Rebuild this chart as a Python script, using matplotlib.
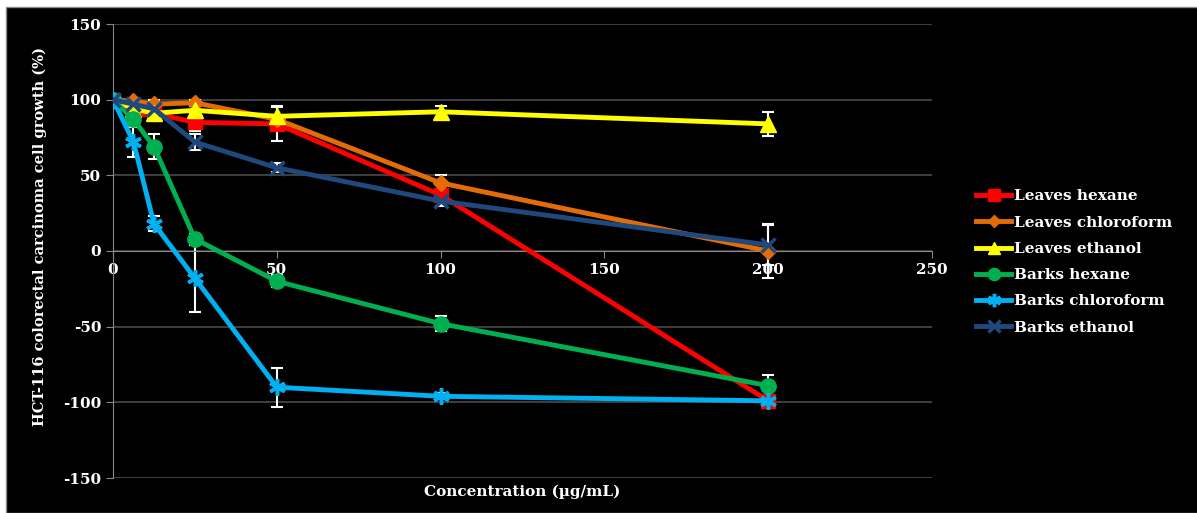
import matplotlib.pyplot as plt
from matplotlib.patches import Rectangle

conc = [0, 6.25, 12.5, 25, 50, 100, 200]

leaves_hexane = [100, 89, 91, 85, 84, 37, -99]
leaves_hexane_err = [1, 4, 3, 6, 11, 3, 2]
leaves_chloroform = [100, 99, 97, 98, 87, 45, 0]
leaves_chloroform_err = [1, 2, 3, 2, 3, 5, 18]
leaves_ethanol = [100, 94, 91, 93, 89, 92, 84]
leaves_ethanol_err = [1, 3, 3, 3, 7, 4, 8]
barks_hexane = [100, 87, 69, 8, -20, -48, -89]
barks_hexane_err = [1, 3, 8, 3, 4, 5, 7]
barks_chloroform = [100, 72, 18, -18, -90, -96, -99]
barks_chloroform_err = [1, 10, 5, 22, 13, 2, 1]
barks_ethanol = [100, 97, 94, 72, 55, 33, 4]
barks_ethanol_err = [1, 2, 2, 5, 3, 3, 13]

labels = ["Leaves hexane", "Leaves chloroform", "Leaves ethanol",
          "Barks hexane", "Barks chloroform", "Barks ethanol"]
series = [leaves_hexane, leaves_chloroform, leaves_ethanol,
          barks_hexane, barks_chloroform, barks_ethanol]
errors = [leaves_hexane_err, leaves_chloroform_err, leaves_ethanol_err,
          barks_hexane_err, barks_chloroform_err, barks_ethanol_err]
colors = ["#ff0000", "#e36c09", "#ffff00", "#00b050", "#00b0f0", "#1f497d"]
markers = ["s", "D", "^", "o", (6, 2, 0), "x"]
msizes = [10, 8, 11, 11, 12, 10]

plt.rcParams['font.family'] = ['DejaVu Serif']
plt.rcParams['font.weight'] = 'bold'
plt.rcParams['axes.unicode_minus'] = False

fig = plt.figure(figsize=(11.97, 5.13), dpi=100, facecolor='white')
fig.patches.append(Rectangle((6 / 1197, 0), 1, 1 - 7 / 513, transform=fig.transFigure,
                             facecolor='black', edgecolor='#888888', lw=1, zorder=-10))

ax = fig.add_axes([113 / 1197, 35 / 513, 819 / 1197, 454 / 513])
ax.set_facecolor('black')

for y, e, c, m, ms, lab in zip(series, errors, colors, markers, msizes, labels):
    ax.errorbar(conc, y, yerr=e, fmt='none', ecolor='white', elinewidth=1.5,
                capsize=4, capthick=1.5, zorder=2)
    mew = 2.5 if m == "x" or isinstance(m, tuple) else 1
    ax.plot(conc, y, color=c, lw=3.5, marker=m, ms=ms, mfc=c, mec=c, mew=mew,
            label=lab, zorder=3)

ax.set_xlim(0, 250)
ax.set_ylim(-150, 150)
ax.set_xticks([0, 50, 100, 150, 200, 250])
ax.set_yticks(range(-150, 151, 50))
ax.yaxis.grid(True, color='#4a4a4a', lw=1.2)
ax.set_axisbelow(True)

ax.spines['bottom'].set_position(('data', 0))
for s in ['top', 'right']:
    ax.spines[s].set_visible(False)
for s in ['left', 'bottom']:
    ax.spines[s].set_color('#888888')
ax.tick_params(colors='#888888', labelcolor='white', labelsize=11, length=5)
ax.tick_params(axis='x', pad=4)
for t in ax.get_xticklabels() + ax.get_yticklabels():
    t.set_fontweight('bold')

fig.text(522 / 1197, 1 - 492 / 513, "Concentration (µg/mL)", color='white',
         fontsize=11, fontweight='bold', ha='center', va='center')
fig.text(40 / 1197, 1 - 237 / 513, "HCT-116 colorectal carcinoma cell growth (%)",
         color='white', fontsize=10.5, fontweight='bold', rotation=90,
         ha='center', va='center')

leg = ax.legend(loc='center left', bbox_to_anchor=(970 / 1197, 1 - 262 / 513),
                bbox_transform=fig.transFigure, frameon=False, fontsize=11,
                labelcolor='white', handlelength=2.3, handletextpad=0.2,
                labelspacing=0.8, borderaxespad=0, markerscale=0.8)
for t in leg.get_texts():
    t.set_fontweight('bold')

fig.savefig("out.png", dpi=100, facecolor=fig.get_facecolor())
